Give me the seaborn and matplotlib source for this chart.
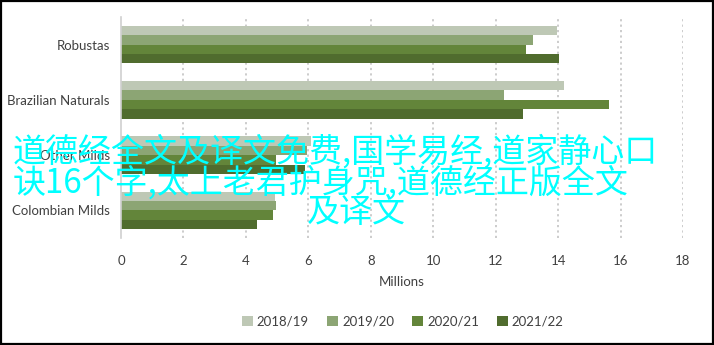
import matplotlib
matplotlib.use("Agg")
import matplotlib.pyplot as plt
import seaborn as sns
import pandas as pd
from matplotlib.patches import Rectangle

categories = ["Robustas", "Brazilian Naturals", "Other Milds", "Colombian Milds"]
seasons = ["2018/19", "2019/20", "2020/21", "2021/22"]
v_2018_19 = [13.96, 14.20, 6.10, 4.92]
v_2019_20 = [13.18, 12.27, 5.95, 4.95]
v_2020_21 = [12.96, 15.63, 4.98, 4.87]
v_2021_22 = [14.04, 12.88, 5.90, 4.36]
xticks = [0, 2, 4, 6, 8, 10, 12, 14, 16, 18]
colors = ["#bec8b5", "#8ca574", "#63853a", "#506c2e"]
overlay_lines = ["道德经全文及译文免费,国学易经,道家静心口",
                 "诀16个字,太上老君护身咒,道德经正版全文",
                 "及译文"]

rows = []
for s, vals in zip(seasons, [v_2018_19, v_2019_20, v_2020_21, v_2021_22]):
    for c, v in zip(categories, vals):
        rows.append({"Category": c, "Season": s, "Value": v})
df = pd.DataFrame(rows)

sns.set_theme(style="white")
plt.rcParams['font.family'] = ['Lato', 'DejaVu Sans']

fig = plt.figure(figsize=(7.14, 3.45), dpi=100)
ax = fig.add_axes([121/714, 1-238/345, (683-121)/714, (238-17)/345])
sns.barplot(data=df, y="Category", x="Value", hue="Season", palette=colors,
            orient="h", width=0.68, saturation=1, ax=ax, order=categories,
            hue_order=seasons, linewidth=0)

ax.set_xlim(0, 18)
ax.set_ylim(3.5, -0.5)
ax.set_xticks(xticks)
ax.set_xticklabels([str(t) for t in xticks])
ax.tick_params(axis="both", length=0, labelsize=9.5, colors="#404040")
ax.tick_params(axis="x", pad=12)
ax.tick_params(axis="y", pad=8)
ax.set_ylabel("")
ax.set_xlabel("Millions", fontsize=9.5, color="#404040", labelpad=7)
for x in xticks[1:]:
    ax.axvline(x, color="#c8c8c8", linestyle=(0, (1.2, 1.8)), linewidth=1.3, zorder=0)
for sp in ["top", "right", "bottom"]:
    ax.spines[sp].set_visible(False)
ax.spines["left"].set_color("#d0d0d0")
ax.spines["left"].set_linewidth(1.2)
ax.set_axisbelow(True)

leg = ax.legend(loc="center", bbox_to_anchor=(403/714, 1-322/345),
                bbox_transform=fig.transFigure, ncol=4, frameon=False,
                handlelength=0.8, handleheight=0.8, handletextpad=0.3,
                columnspacing=1.4, fontsize=9.5)
for t in leg.get_texts():
    t.set_color("#404040")

fig.patches.append(Rectangle((0.001, 0.002), 0.997, 0.995, transform=fig.transFigure,
                             fill=False, edgecolor="black", linewidth=1.6))

cjk = ['Noto Sans CJK SC', 'DejaVu Sans']
fig.text(335/714, 1-152/345, overlay_lines[0], color="#00ffff", fontsize=23.8,
         ha="center", va="center", family=cjk)
fig.text(321/714, 1-183/345, overlay_lines[1], color="#00ffff", fontsize=23.8,
         ha="center", va="center", family=cjk)
fig.text(356/714, 1-212/345, overlay_lines[2], color="#00ffff", fontsize=23.8,
         ha="center", va="center", family=cjk)

fig.savefig("out.png", dpi=100)
